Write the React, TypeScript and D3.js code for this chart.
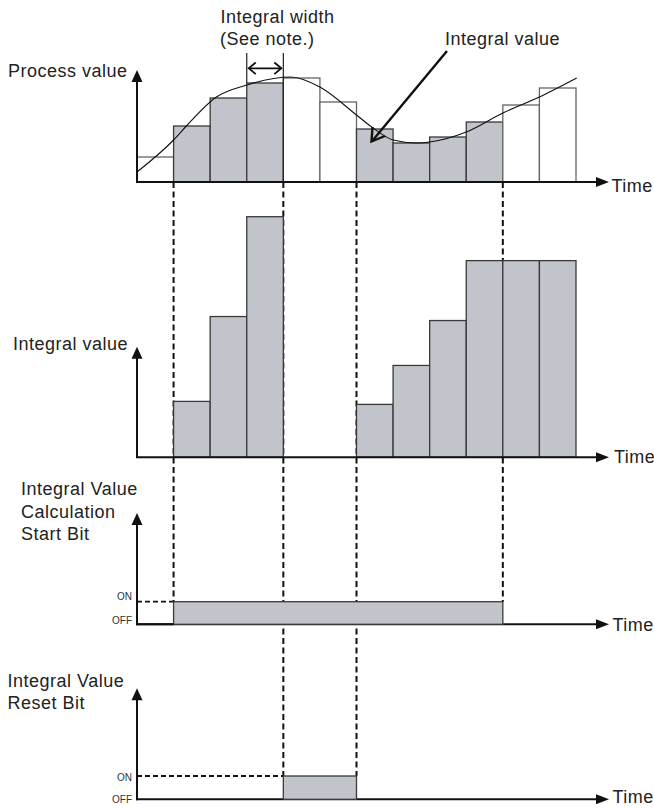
import React from "react";
import * as d3 from "d3";

// ---------- data ----------
const periods = [0, 1, 2, 3, 4, 5, 6, 7, 8, 9, 10, 11];
const processValues = [25, 56, 84, 99, 104, 80, 53, 39, 45, 60, 77, 94];
const integrating = [0, 1, 1, 1, 0, 0, 1, 1, 1, 1, 0, 0];
const curveT = [0, 1, 1.35, 2.17, 3, 4.2, 5, 6, 6.45, 7, 7.65, 8, 9, 10, 11, 12.02];
const curveV = [10, 42, 56, 85, 97, 105, 95, 67, 54, 42, 39, 40, 50, 69, 85, 104];
const integralValues = [0, 56, 141, 241, 0, 0, 53, 92, 137, 197, 197, 197];
const startBitOn = [1, 10];
const resetBitOn = [4, 6];

const W = 654;
const H = 809;
const FONT = "'Liberation Sans', Arial, Helvetica, sans-serif";
const GREY = "#c2c4cb";
const BAR_STROKE = "#3a3a3a";
const OPEN_STROKE = "#666";
const LS = 0.5;

const x = d3.scaleLinear().domain([0, 12]).range([137, 576]);
const yTop = d3.scaleLinear().domain([0, 100]).range([182, 82]);
const yMid = d3.scaleLinear().domain([0, 241]).range([457.3, 216.7]);
const yStart = d3.scaleLinear().domain([0, 1]).range([624.3, 601.7]);
const yReset = d3.scaleLinear().domain([0, 1]).range([799.3, 776]);

const AXIS_X = 137;
const X_TIP = 609;

function VArrow({ x0, y0, y1 }: { x0: number; y0: number; y1: number }) {
  return (
    <g>
      <line x1={x0} y1={y0} x2={x0} y2={y1 + 10} stroke="#111" strokeWidth={2} />
      <path d={`M${x0},${y1} L${x0 - 5.5},${y1 + 12} L${x0 + 5.5},${y1 + 12} Z`} fill="#111" />
    </g>
  );
}

function HAxis({ y0, label, dy, lx }: { y0: number; label: string; dy: number; lx: number }) {
  return (
    <g>
      <line x1={AXIS_X - 1} y1={y0} x2={X_TIP - 10} y2={y0} stroke="#111" strokeWidth={2} />
      <path d={`M${X_TIP},${y0} L${X_TIP - 13},${y0 - 5} L${X_TIP - 13},${y0 + 5} Z`} fill="#111" />
      <text x={lx} y={y0 + dy} fontSize={18} fill="#222" fontFamily={FONT} letterSpacing={LS}>
        {label}
      </text>
    </g>
  );
}

function Label({ x0, y0, children }: { x0: number; y0: number; children: React.ReactNode }) {
  return (
    <text x={x0} y={y0} fontSize={18} fill="#222" letterSpacing={LS}>
      {children}
    </text>
  );
}

export default function App() {
  const bw = x(1) - x(0);
  const line = d3
    .line<number>()
    .x((_, i) => x(curveT[i]))
    .y((v) => yTop(v))
    .curve(d3.curveMonotoneX);

  const dash = "6,3.5";
  const dashed = [
    { t: 1, y2: yStart(1) },
    { t: 4, y2: yReset(1) },
    { t: 6, y2: yReset(1) },
    { t: 10, y2: yStart(1) },
  ];

  return (
    <svg
      width={W}
      height={H}
      style={{ position: "absolute", left: 0, top: 0, background: "#fff" }}
      fontFamily={FONT}
    >
      <rect x={0} y={0} width={W} height={H} fill="#fff" />

      {/* dashed guide lines */}
      {dashed.map((d, i) => (
        <line
          key={i}
          x1={x(d.t)}
          x2={x(d.t)}
          y1={yTop(0)}
          y2={d.y2}
          stroke="#111"
          strokeWidth={2}
          strokeDasharray={dash}
        />
      ))}

      {/* ---------- top panel: process value ---------- */}
      {periods.map((p) => (
        <rect
          key={p}
          x={x(p)}
          y={yTop(processValues[p])}
          width={bw}
          height={yTop(0) - yTop(processValues[p])}
          fill={integrating[p] ? GREY : "#fff"}
          stroke={integrating[p] ? BAR_STROKE : OPEN_STROKE}
          strokeWidth={1.3}
        />
      ))}
      <path d={line(curveV) || ""} fill="none" stroke="#111" strokeWidth={1.1} />
      <VArrow x0={AXIS_X} y0={yTop(0)} y1={70} />
      <HAxis y0={yTop(0)} label="Time" dy={9.5} lx={611.5} />
      <Label x0={8} y0={77}>Process value</Label>

      {/* integral width annotation */}
      <line x1={x(3)} x2={x(3)} y1={53} y2={yTop(processValues[3])} stroke="#222" strokeWidth={1.2} />
      <line x1={x(4)} x2={x(4)} y1={53} y2={yTop(0)} stroke="#222" strokeWidth={1.2} />
      <line x1={x(3) + 2} x2={x(4) - 2} y1={68.3} y2={68.3} stroke="#111" strokeWidth={1.8} />
      <path
        d={`M${x(3) + 9},${62.5} L${x(3) + 2},${68.3} L${x(3) + 9},${74.1} M${x(4) - 9},${62.5} L${x(4) - 2},${68.3} L${x(4) - 9},${74.1}`}
        fill="none"
        stroke="#111"
        strokeWidth={1.8}
      />
      <Label x0={220.5} y0={22.7}>Integral width</Label>
      <Label x0={220} y0={45}>(See note.)</Label>

      {/* integral value annotation */}
      <Label x0={445} y0={45}>Integral value</Label>
      <line x1={447} y1={51} x2={373} y2={140} stroke="#111" strokeWidth={2.4} />
      <path d={`M${372.5},${127} L${371.5},${141.5} L${385},${136}`} fill="none" stroke="#111" strokeWidth={2.4} />

      {/* ---------- middle panel: integral value ---------- */}
      {periods
        .filter((p) => integralValues[p] > 0)
        .map((p) => (
          <rect
            key={p}
            x={x(p)}
            y={yMid(integralValues[p])}
            width={bw}
            height={yMid(0) - yMid(integralValues[p])}
            fill={GREY}
            stroke={BAR_STROKE}
            strokeWidth={1.3}
          />
        ))}
      <VArrow x0={AXIS_X} y0={yMid(0)} y1={346.7} />
      <HAxis y0={yMid(0)} label="Time" dy={6} lx={614} />
      <Label x0={13} y0={350}>Integral value</Label>

      {/* ---------- start bit ---------- */}
      <line x1={AXIS_X} x2={x(startBitOn[0])} y1={yStart(1)} y2={yStart(1)} stroke="#111" strokeWidth={1.8} strokeDasharray="5,3" />
      <HAxis y0={yStart(0)} label="Time" dy={6.5} lx={612.5} />
      <rect
        x={x(startBitOn[0])}
        y={yStart(1)}
        width={x(startBitOn[1]) - x(startBitOn[0])}
        height={yStart(0) - yStart(1)}
        fill={GREY}
        stroke={BAR_STROKE}
        strokeWidth={1.3}
      />
      <line x1={AXIS_X} x2={x(startBitOn[0])} y1={yStart(0)} y2={yStart(0)} stroke="#111" strokeWidth={2} />
      <VArrow x0={AXIS_X} y0={yStart(0) + 1} y1={513} />
      <text x={132} y={600} fontSize={10} fill="#333" textAnchor="end">ON</text>
      <text x={132} y={623.5} fontSize={10} fill="#333" textAnchor="end">OFF</text>
      <Label x0={21} y0={495}>Integral Value</Label>
      <Label x0={21} y0={517.5}>Calculation</Label>
      <Label x0={21} y0={540}>Start Bit</Label>

      {/* ---------- reset bit ---------- */}
      <line x1={AXIS_X} x2={x(resetBitOn[0])} y1={yReset(1)} y2={yReset(1)} stroke="#111" strokeWidth={1.8} strokeDasharray="5,3" />
      <HAxis y0={yReset(0)} label="Time" dy={4} lx={612.5} />
      <rect
        x={x(resetBitOn[0])}
        y={yReset(1)}
        width={x(resetBitOn[1]) - x(resetBitOn[0])}
        height={yReset(0) - yReset(1)}
        fill={GREY}
        stroke={BAR_STROKE}
        strokeWidth={1.3}
      />
      <VArrow x0={AXIS_X} y0={yReset(0) + 1} y1={688.3} />
      <text x={132} y={781} fontSize={10} fill="#333" textAnchor="end">ON</text>
      <text x={132} y={803} fontSize={10} fill="#333" textAnchor="end">OFF</text>
      <Label x0={7.5} y0={686.7}>Integral Value</Label>
      <Label x0={7.5} y0={708.5}>Reset Bit</Label>
    </svg>
  );
}
